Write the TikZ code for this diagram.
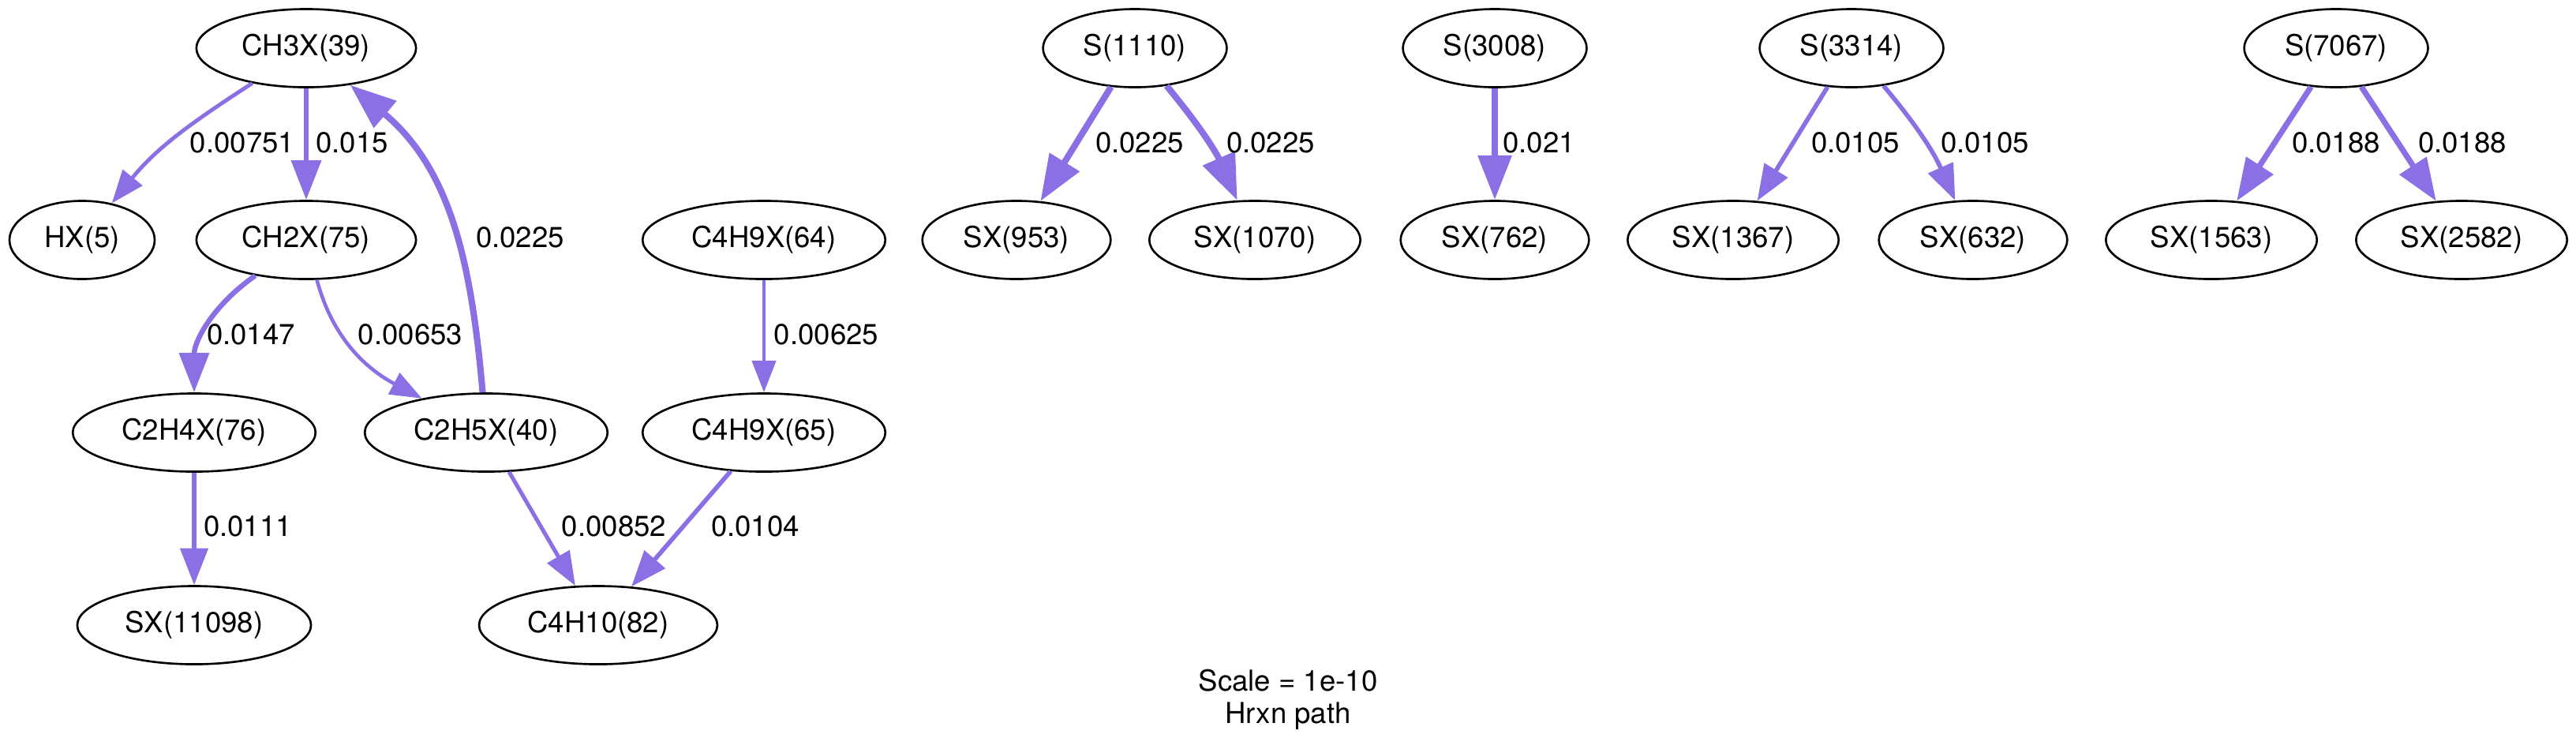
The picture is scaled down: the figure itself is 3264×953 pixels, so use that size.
\documentclass[tikz,border=0pt]{standalone}
\usepackage{fontspec}
\setmainfont{TeX Gyre Heros}
\usepackage{xcolor}
\usetikzlibrary{shapes.geometric,arrows.meta}
\definecolor{fluxcol}{RGB}{138,112,228}

\begin{document}
\begin{tikzpicture}[
    x=0.01cm, y=0.01cm,
    sp/.style={ellipse, draw=black, line width=0.75pt, inner xsep=0.173cm, inner ysep=0.1cm, minimum height=0.99cm, font=\fontsize{10.4}{12}\selectfont},
    lbl/.style={inner sep=0pt, font=\fontsize{10.4}{12}\selectfont},
    flux/.style={draw=fluxcol, line width=#1, -{Triangle[length=4.8pt 5.1, width=3.7pt 3.7]}}
]
    \useasboundingbox (0,0) rectangle (3264,-953);

    \node [sp] (ch3x) at (388,-61) {CH3X(39)};
    \node [sp] (hx) at (104,-304) {HX(5)};
    \node [sp] (ch2x) at (388,-304) {CH2X(75)};
    \node [sp] (c4h9xa) at (968,-304) {C4H9X(64)};
    \node [sp] (c2h4x) at (246,-548) {C2H4X(76)};
    \node [sp] (c2h5x) at (616,-548) {C2H5X(40)};
    \node [sp] (c4h9xb) at (968,-548) {C4H9X(65)};
    \node [sp] (sx11098) at (246,-792) {SX(11098)};
    \node [sp] (c4h10) at (758,-792) {C4H10(82)};

    \node [sp] (s1110) at (1438,-61) {S(1110)};
    \node [sp] (s3008) at (1894,-61) {S(3008)};
    \node [sp] (s3314) at (2346,-61) {S(3314)};
    \node [sp] (s7067) at (2960,-61) {S(7067)};
    \node [sp] (sx953) at (1288,-304) {SX(953)};
    \node [sp] (sx1070) at (1590,-304) {SX(1070)};
    \node [sp] (sx762) at (1894,-304) {SX(762)};
    \node [sp] (sx1367) at (2196,-304) {SX(1367)};
    \node [sp] (sx632) at (2500,-304) {SX(632)};
    \node [sp] (sx1563) at (2802,-304) {SX(1563)};
    \node [sp] (sx2582) at (3119,-304) {SX(2582)};

    \draw [flux=1.4pt] (ch3x) to[out=213, in=51] (hx);
    \draw [flux=1.85pt] (ch3x) -- (ch2x);
    \draw [flux=2.3pt] (c2h5x) to[out=95, in=-40] (ch3x);
    \draw [flux=1.85pt] (ch2x) to[out=215, in=90] (c2h4x);
    \draw [flux=1.3pt] (ch2x) to[out=285, in=152] (c2h5x);
    \draw [flux=1.65pt] (c2h4x) -- (sx11098);
    \draw [flux=1.3pt] (c4h9xa) -- (c4h9xb);
    \draw [flux=1.45pt] (c2h5x) -- (c4h10);
    \draw [flux=1.6pt] (c4h9xb) -- (c4h10);
    \draw [flux=2.3pt] (s1110) -- (sx953);
    \draw [flux=2.3pt] (s1110) to[bend left=8] (sx1070);
    \draw [flux=2.2pt] (s3008) -- (sx762);
    \draw [flux=1.6pt] (s3314) -- (sx1367);
    \draw [flux=1.6pt] (s3314) to[bend left=8] (sx632);
    \draw [flux=2.05pt] (s7067) -- (sx1563);
    \draw [flux=2.05pt] (s7067) -- (sx2582);

    \node [lbl] (f1) at (307,-181) {0.00751};
    \node [lbl] (f2) at (446,-181) {0.015};
    \node [lbl] (f3) at (659,-301) {0.0225};
    \node [lbl] (f4) at (318,-424) {0.0147};
    \node [lbl] (f5) at (520,-424) {0.00653};
    \node [lbl] (f6) at (314,-667) {0.0111};
    \node [lbl] (f7) at (778,-667) {0.00852};
    \node [lbl] (f8) at (1047,-424) {0.00625};
    \node [lbl] (f9) at (957,-667) {0.0104};
    \node [lbl] (f10) at (1444,-181) {0.0225};
    \node [lbl] (f11) at (1610,-181) {0.0225};
    \node [lbl] (f12) at (1950,-181) {0.021};
    \node [lbl] (f13) at (2351,-181) {0.0105};
    \node [lbl] (f14) at (2515,-181) {0.0105};
    \node [lbl] (f15) at (2960,-181) {0.0188};
    \node [lbl] (f16) at (3120,-181) {0.0188};

    \node [lbl, align=center, font=\fontsize{10.4}{11.7}\selectfont] (cap) at (1632,-886) {Scale = 1e-10\\Hrxn path};
\end{tikzpicture}
\end{document}
